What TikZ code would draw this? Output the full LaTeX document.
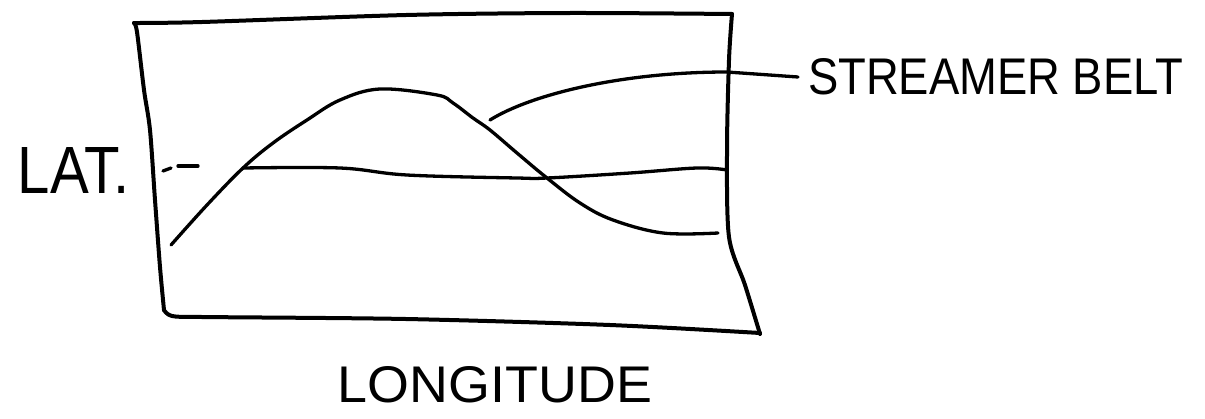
\documentclass[tikz,border=0pt]{standalone}
\usepackage{fontspec}
\setmainfont{Liberation Sans}
\begin{document}
\begin{tikzpicture}[x=1pt,y=-1pt,
  ink/.style={line width=3.3pt, line cap=round, line join=round},
  frame/.style={line width=4pt, line cap=round, line join=round},
  txt/.style={inner sep=0pt, outer sep=0pt}]
\useasboundingbox[fill=white] (0,0) rectangle (1205,418);
% frame
\draw[frame] plot[smooth, tension=0.5] coordinates {(134,23) (202,22) (406,15) (569,13) (732,14)};
\draw[frame] plot[smooth, tension=0.5] coordinates {(732,14) (729,60) (727,150) (729,237) (745,285) (760,334)};
\draw[frame] plot[smooth, tension=0.5] coordinates {(760,333) (610,325) (406,319) (202,317) (172,316) (164,310)};
\draw[frame] plot[smooth, tension=0.5] coordinates {(164,310) (160,267) (155,200) (150,130) (144,90) (137,32) (134,23)};
% streamer belt curve
\draw[ink] plot[smooth, tension=0.6] coordinates {(171,245) (207,205) (243,168) (273,143) (307,120) (340,100) (380,89) (437,95) (453,103) (473,118) (490,130) (517,153) (547,178) (580,203) (613,220) (663,233) (718,233)};
% latitude line
\draw[ink] plot[smooth, tension=0.6] coordinates {(243,168) (340,168) (407,175) (517,178) (547,178) (630,173) (697,168) (727,170)};
% dashes
\draw[ink] (163,171) -- (171,168);
\draw[ink] (178,166) -- (198,166);
% labels
\node[txt] (lat) at (74,170) {\resizebox{112pt}{46pt}{LAT.}};
\node[txt] (lon) at (495,385) {\resizebox{314pt}{36pt}{LONGITUDE}};
\node[txt, anchor=west, inner xsep=10pt] (belt) at (798,77) {\resizebox{375pt}{36pt}{STREAMER BELT}};
% connector
\coordinate (bstart) at (490,120);
\draw[ink] (bstart) .. controls (530,95) and (620,72) .. (727,72) -- (belt.west);
\end{tikzpicture}
\end{document}
